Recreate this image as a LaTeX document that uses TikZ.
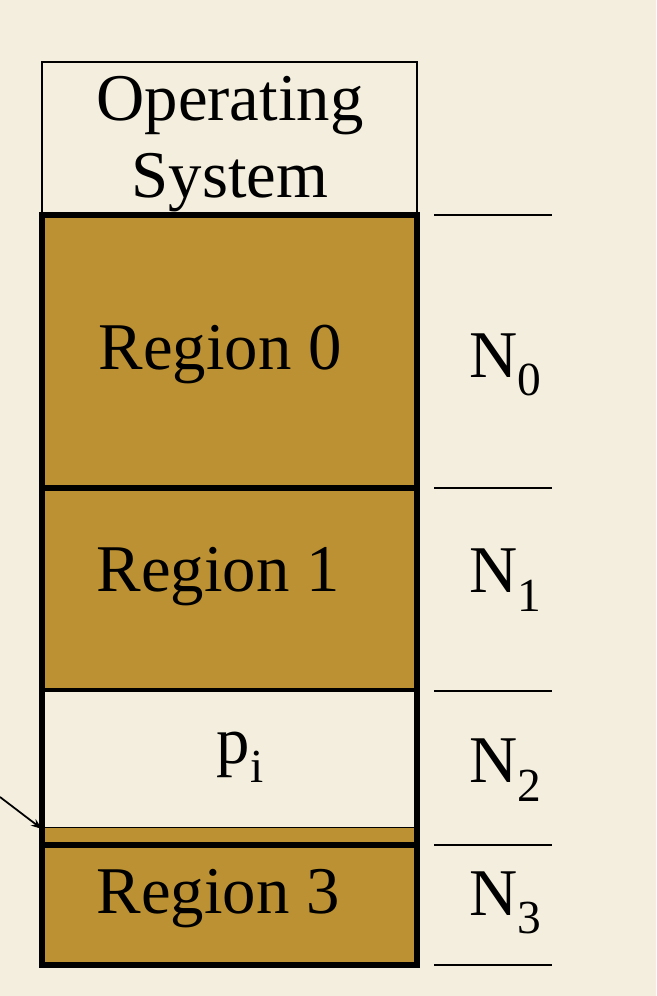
\documentclass[tikz,border=0pt]{standalone}
\usepackage{fontspec}
\setmainfont{Liberation Serif}
\newfontfamily\timesfont{Liberation Serif}
\usepackage{tikz}
\usetikzlibrary{arrows.meta,positioning}
\definecolor{paper}{HTML}{F3EEDD}
\definecolor{gold}{HTML}{BC9133}
\newcommand{\lowsub}[1]{\raisebox{-0.28em}{\fontsize{27}{27}\selectfont #1}}

\begin{document}
\begin{tikzpicture}[
    x=0.02cm, y=-0.02cm,
    big/.style={font=\timesfont\fontsize{38}{44}\selectfont, align=center, inner sep=0pt},
    region/.style={draw, line width=3.2pt, fill=gold},
    hole/.style={draw, line width=1pt, fill=paper},
    bound/.style={line width=1pt},
    ptr/.style={-{Stealth[length=2.2mm,width=1.6mm]}, line width=1pt}
]
\fill[paper] (0,0) rectangle (656,996);
\useasboundingbox (0,0) rectangle (656,996);
% memory partitions
\draw[hole] (42,62) rectangle (417,215);
\draw[region] (42,215) rectangle (417,488);
\draw[region] (42,488) rectangle (417,691);
\draw[hole] (42,691) rectangle (417,828);
\fill[gold] (42,828) rectangle (417,845);
\draw[region] (42,845) rectangle (417,965);
\draw[line width=3.2pt] (42,691) -- (42,845) (417,691) -- (417,845);
\node[big] (os) at (230,144) {Operating\\System};
\node[big] (r0) at (220,355) {Region 0};
\node[big] (r1) at (218,577) {Region 1};
\node[big] (pi) at (240,757) {p\lowsub{i}};
\node[big] (r3) at (218,899) {Region 3};
% sizes
\foreach \y in {215,488,691,845,965}
  \draw[bound] (434,\y) -- (552,\y);
\node[big] (n0) at (505,365) {N\lowsub{0}};
\node[big] (n1) at (505,580) {N\lowsub{1}};
\node[big] (n2) at (505,770) {N\lowsub{2}};
\node[big] (n3) at (505,903) {N\lowsub{3}};
\coordinate (tail) at (0,797);
\coordinate (gap) at (42,829);
\draw[ptr] (tail) -- (gap);
\end{tikzpicture}
\end{document}
